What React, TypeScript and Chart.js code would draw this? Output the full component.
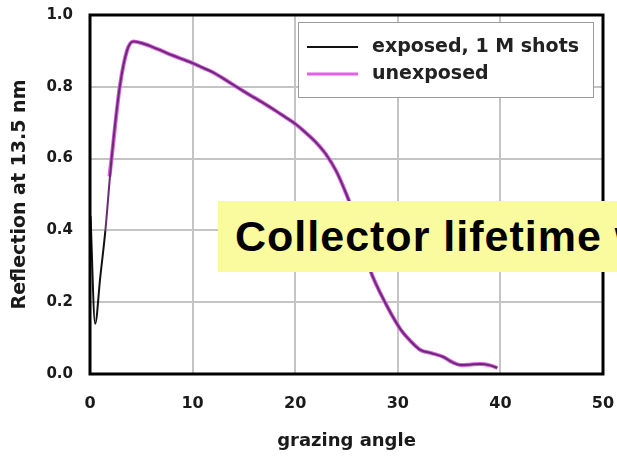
import React, { useEffect, useRef } from "react";
import { Chart, registerables } from "chart.js";

Chart.register(...registerables);

const exposedAngle = [0.05, 0.5, 1.0, 1.5, 2.1, 2.9, 3.6, 4.2, 5, 6, 7, 8, 9, 10, 11, 12, 13, 14, 15, 16, 17, 18, 19, 20, 21, 22, 23, 24, 25, 25.6, 26.2, 26.8, 27.3, 28, 28.75, 29.5, 30.3, 31.2, 32.2, 33.3, 34.4, 35.3, 36.1, 37, 38, 39, 39.7];
const exposedValue = [0.44, 0.14, 0.27, 0.4, 0.6, 0.8, 0.9, 0.926, 0.922, 0.912, 0.9, 0.888, 0.877, 0.866, 0.853, 0.84, 0.823, 0.805, 0.787, 0.77, 0.753, 0.735, 0.716, 0.697, 0.673, 0.646, 0.612, 0.565, 0.5, 0.455, 0.4, 0.34, 0.29, 0.243, 0.2, 0.16, 0.123, 0.093, 0.067, 0.058, 0.048, 0.033, 0.025, 0.026, 0.028, 0.024, 0.017];
const unexposedAngle = [1.9, 2.1, 2.9, 3.6, 4.2, 5, 6, 7, 8, 9, 10, 11, 12, 13, 14, 15, 16, 17, 18, 19, 20, 21, 22, 23, 24, 25, 25.6, 26.2, 26.8, 27.3, 28, 28.75, 29.5, 30.3, 31.2, 32.2, 33.3, 34.4, 35.3, 36.1, 37, 38, 39, 39.7];
const unexposedValue = [0.55, 0.6, 0.8, 0.9, 0.926, 0.922, 0.912, 0.9, 0.888, 0.877, 0.866, 0.853, 0.84, 0.823, 0.805, 0.787, 0.77, 0.753, 0.735, 0.716, 0.697, 0.673, 0.646, 0.612, 0.565, 0.5, 0.455, 0.4, 0.34, 0.29, 0.243, 0.2, 0.16, 0.123, 0.093, 0.067, 0.058, 0.048, 0.033, 0.025, 0.026, 0.028, 0.024, 0.017];
const seriesNames = ["exposed, 1 M shots", "unexposed"];
const xTicks = [0, 10, 20, 30, 40, 50];
const yTicks = [0, 0.2, 0.4, 0.6, 0.8, 1.0];
const overlayText = "Collector lifetime w";

const FONT = "'DejaVu Sans', sans-serif";

const framePlugin = {
  id: "frameLegend",
  afterDraw(chart: any) {
    const { ctx, chartArea } = chart;
    const { left, top, right, bottom } = chartArea;
    ctx.save();
    ctx.strokeStyle = "#000";
    ctx.lineWidth = 3;
    ctx.strokeRect(left, top, right - left, bottom - top);
    const bx = 298, by = 22, bw = 295, bh = 75;
    ctx.fillStyle = "#fff";
    ctx.fillRect(bx, by, bw, bh);
    ctx.strokeStyle = "#9a9a9a";
    ctx.lineWidth = 1;
    ctx.strokeRect(bx + 0.5, by + 0.5, bw, bh);
    const rows = [
      { color: "#111", width: 2, y: 47 },
      { color: "#e060e6", width: 3, y: 74 },
    ];
    ctx.font = `bold 19px ${FONT}`;
    ctx.textBaseline = "middle";
    ctx.textAlign = "left";
    rows.forEach((r, i) => {
      ctx.strokeStyle = r.color;
      ctx.lineWidth = r.width;
      ctx.beginPath();
      ctx.moveTo(307, r.y);
      ctx.lineTo(358, r.y);
      ctx.stroke();
      ctx.fillStyle = "#222";
      ctx.fillText(seriesNames[i], 372, r.y);
    });
    ctx.restore();
  },
};

export default function App() {
  const ref = useRef<HTMLCanvasElement | null>(null);
  useEffect(() => {
    document.body.style.margin = "0";
    if (!ref.current) return;
    const chart = new Chart(ref.current, {
      type: "line",
      data: {
        datasets: [
          {
            label: seriesNames[0],
            data: exposedAngle.map((x, i) => ({ x, y: exposedValue[i] })),
            borderColor: "#6a2a74",
            borderWidth: 2,
            pointRadius: 0,
            cubicInterpolationMode: "monotone",
            segment: {
              borderColor: (c: any) => (c.p1.parsed.x <= unexposedAngle[0] ? "#111" : "#6a2a74"),
            },
          },
          {
            label: seriesNames[1],
            data: unexposedAngle.map((x, i) => ({ x, y: unexposedValue[i] })),
            borderColor: "#d864e0",
            borderWidth: 4,
            pointRadius: 0,
            cubicInterpolationMode: "monotone",
          },
        ],
      },
      options: {
        animation: false,
        responsive: false,
        maintainAspectRatio: false,
        layout: { padding: { top: 15, right: 14, left: 0, bottom: 0 } },
        plugins: { legend: { display: false }, tooltip: { enabled: false } },
        scales: {
          x: {
            type: "linear",
            min: xTicks[0],
            max: xTicks[xTicks.length - 1],
            afterBuildTicks: (s: any) => {
              s.ticks = xTicks.map((v) => ({ value: v }));
            },
            afterFit: (s: any) => {
              s.height = 83;
              s.paddingLeft = 0;
              s.paddingRight = 0;
            },
            ticks: {
              color: "#1a1a1a",
              font: { family: FONT, size: 16, weight: "bold" },
              padding: 20,
              callback: (v: any) => String(v),
            },
            grid: { color: "#c4c4c4", lineWidth: 2, drawTicks: false },
            border: { display: false },
            title: {
              display: true,
              text: "grazing angle",
              color: "#1a1a1a",
              font: { family: FONT, size: 18, weight: "bold" },
              padding: { top: 0, bottom: 5 },
            },
          },
          y: {
            type: "linear",
            min: yTicks[0],
            max: yTicks[yTicks.length - 1],
            afterBuildTicks: (s: any) => {
              s.ticks = yTicks.map((v) => ({ value: v }));
            },
            afterFit: (s: any) => {
              s.width = 90;
              s.paddingTop = 0;
              s.paddingBottom = 0;
            },
            ticks: {
              color: "#1a1a1a",
              font: { family: FONT, size: 15, weight: "bold" },
              padding: 17,
              callback: (v: any) => Number(v).toFixed(1),
            },
            grid: { color: "#c4c4c4", lineWidth: 2, drawTicks: false },
            border: { display: false },
            title: {
              display: true,
              text: "Reflection at 13.5 nm",
              color: "#1a1a1a",
              font: { family: FONT, size: 19, weight: "bold" },
              padding: { top: 9, bottom: 9 },
            },
          },
        },
      },
      plugins: [framePlugin],
    });
    return () => chart.destroy();
  }, []);

  return (
    <div style={{ position: "relative", width: 617, height: 457, overflow: "hidden", background: "#fff" }}>
      <canvas ref={ref} width={617} height={457} style={{ width: 617, height: 457, display: "block" }} />
      <div
        style={{
          position: "absolute",
          left: 218,
          top: 201,
          width: 399,
          height: 71,
          background: "#fafa9e",
          overflow: "hidden",
          whiteSpace: "nowrap",
          boxSizing: "border-box",
          paddingLeft: 17,
          fontFamily: "'Liberation Sans', Arial, sans-serif",
          fontWeight: "bold",
          fontSize: 43,
          letterSpacing: "1px",
          lineHeight: "71px",
          color: "#000",
        }}
      >
        {overlayText}
      </div>
    </div>
  );
}
